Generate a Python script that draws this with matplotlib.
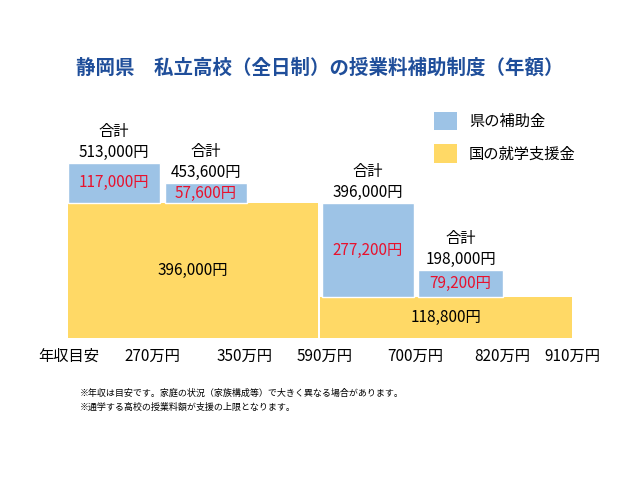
import matplotlib
matplotlib.use('Agg')
import matplotlib.pyplot as plt
from matplotlib.patches import Patch

plt.rcParams['font.family'] = ['Noto Sans CJK JP', 'DejaVu Sans']

# income tick labels and their positions along the x axis
TICK_LABELS = ['年収目安', '270万円', '350万円', '590万円', '700万円', '820万円', '910万円']
TICK_POS = [69, 152, 245, 325, 415, 502, 572]

# national support (yellow): start, end, value
NATIONAL_START = [68, 320]
NATIONAL_END = [318, 572]
NATIONAL_VALUES = [396000, 118800]

# prefecture support (blue) stacked on national
PREF_START = [68, 165, 322, 418]
PREF_END = [160, 247, 414, 503]
PREF_BASE = [396000, 396000, 118800, 118800]
PREF_VALUES = [117000, 57600, 277200, 79200]
TOTALS = [513000, 453600, 396000, 198000]

BLUE = '#9dc3e6'
YELLOW = '#ffd966'
RED = '#e8112d'

fig = plt.figure(figsize=(6.4, 4.8), dpi=100)
ax = fig.add_axes([0.0, 0.296, 1.0, 248 / 480])
ax.set_xlim(0, 640)
ax.set_ylim(0, 727000)
ax.axis('off')

for s, e, v in zip(NATIONAL_START, NATIONAL_END, NATIONAL_VALUES):
    ax.bar(s, v, width=e - s, align='edge', color=YELLOW)
    ax.text((s + e) / 2, v / 2, f'{v:,}円', ha='center', va='center', fontsize=11)

for s, e, b, v, t in zip(PREF_START, PREF_END, PREF_BASE, PREF_VALUES, TOTALS):
    ax.bar(s, v, width=e - s, bottom=b, align='edge', color=BLUE, edgecolor='white')
    ax.text((s + e) / 2, b + v / 2, f'{v:,}円', ha='center', va='center', fontsize=11, color=RED)
    ax.text((s + e) / 2, b + v + 6000, f'合計\n{t:,}円', ha='center', va='bottom',
            fontsize=11, linespacing=1.3)

for p, lab in zip(TICK_POS, TICK_LABELS):
    fig.text(p / 640, 1 - 356 / 480, lab, ha='center', va='center', fontsize=11)

fig.text(0.5, 1 - 68 / 480, '静岡県　私立高校（全日制）の授業料補助制度（年額）',
         ha='center', va='center', fontsize=14, fontweight='bold', color='#1f4e9a')

handles = [Patch(facecolor=BLUE, label='県の補助金'), Patch(facecolor=YELLOW, label='国の就学支援金')]
fig.legend(handles=handles, loc='upper left', bbox_to_anchor=(420 / 640, 1 - 98 / 480),
           frameon=False, fontsize=11, handlelength=1.5, handleheight=1.5, labelspacing=0.9)

fig.text(80 / 640, 1 - 393 / 480, '※年収は目安です。家庭の状況（家族構成等）で大きく異なる場合があります。',
         fontsize=6.5, va='center')
fig.text(80 / 640, 1 - 407 / 480, '※通学する高校の授業料額が支援の上限となります。',
         fontsize=6.5, va='center')

fig.savefig('out.png')
